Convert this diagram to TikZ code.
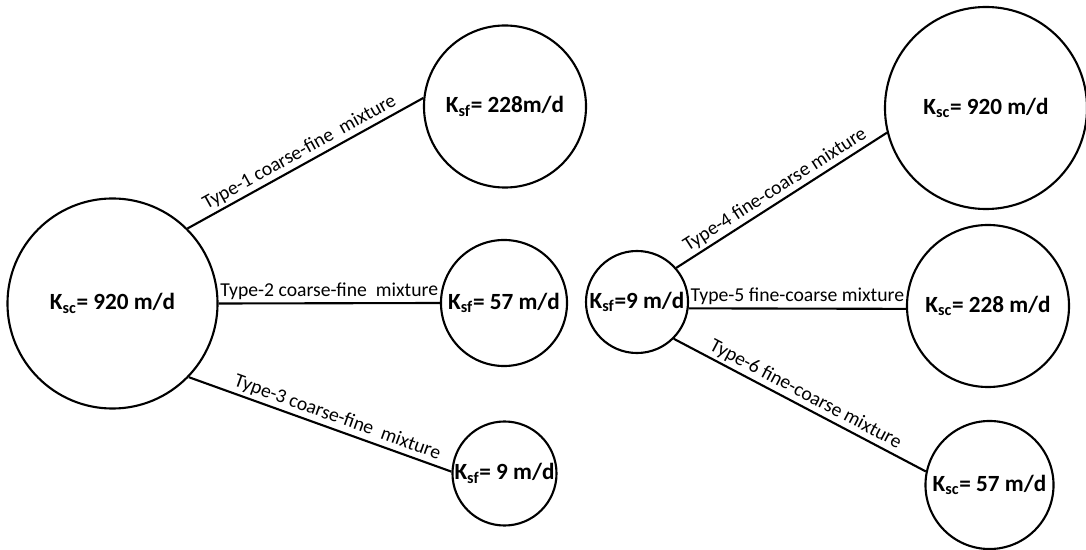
\documentclass[tikz,border=0pt]{standalone}
\usepackage{fontspec}
\setmainfont{Carlito}
\usepackage{tikz}

\begin{document}
\begin{tikzpicture}[
 x=0.025cm, y=-0.025cm,
 line width=1.5pt,
 inner sep=0pt,
 soil/.style={draw=black,circle,font=\fontsize{16.5}{18}\selectfont\bfseries},
 mix/.style={above=2pt,sloped,font=\fontsize{14}{16}\selectfont}
]
\useasboundingbox (0,0) rectangle (1086,550);
% coarse base, three mixtures
\node (coarse-main) [soil,minimum size=5.25cm] at (112.5,303.5) {K\textsubscript{sc}= 920 m/d};
\node (fine-1) [soil,minimum size=4.05cm] at (505,106.5) {K\textsubscript{sf}= 228m/d};
\node (fine-2) [soil,minimum size=3.15cm] at (504,303) {K\textsubscript{sf}= 57 m/d};
\node (fine-3) [soil,minimum size=2.6cm] at (504.5,473.5) {K\textsubscript{sf}= 9 m/d};
\draw (coarse-main.45) -- node [mix] {Type-1 coarse-fine~~mixture} (fine-1.174);
\draw (coarse-main.east) -- node [mix] {Type-2 coarse-fine~~mixture} (fine-2.west);
\draw (coarse-main.-44) -- node [mix,pos=0.55] {Type-3 coarse-fine~~mixture} (fine-3.178);
% fine base, three mixtures
\node (fine-main) [soil,minimum size=2.55cm] at (637,302) {K\textsubscript{sf}=9 m/d};
\node (coarse-4) [soil,minimum size=5.05cm] at (986,108) {K\textsubscript{sc}= 920 m/d};
\node (coarse-5) [soil,minimum size=4.05cm] at (988,306) {K\textsubscript{sc}= 228 m/d};
\node (coarse-6) [soil,minimum size=3.2cm] at (989.5,485) {K\textsubscript{sc}= 57 m/d};
\draw (fine-main.41) -- node [mix] {Type-4 fine-coarse mixture} (coarse-4.194);
\draw (fine-main.-7) -- node [mix] {Type-5 fine-coarse mixture} (coarse-5.182);
\draw (fine-main.-45) -- node [mix] {Type-6 fine-coarse mixture} (coarse-6.168);
\end{tikzpicture}
\end{document}
